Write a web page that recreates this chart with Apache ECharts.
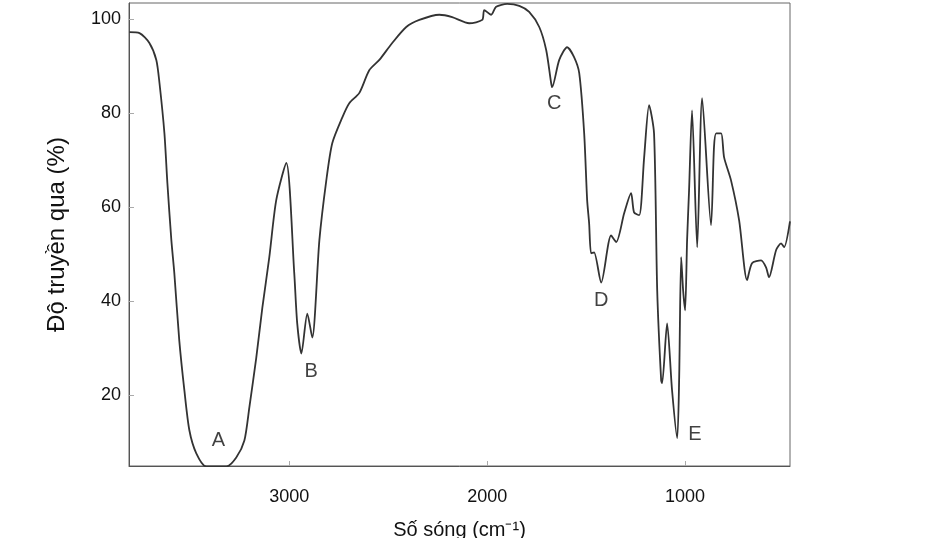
<!DOCTYPE html>
<html>
<head>
<meta charset="utf-8">
<title>Phổ IR</title>
<script src="https://cdn.jsdelivr.net/npm/echarts@6/dist/echarts.min.js"></script>
<style>
  html, body { margin: 0; padding: 0; background: #fff; }
  #chart { width: 939px; height: 538px; }
</style>
</head>
<body>
<div id="chart"></div>
<script>
// số sóng (cm-1) và độ truyền qua (%)
const wavenumbers = [
  3808, 3757, 3707, 3672, 3656, 3631, 3616, 3596, 3581, 3556, 3530, 3505, 3470, 3419, 3318,
  3268, 3227, 3202, 3167, 3136, 3101, 3066, 3015, 2975, 2960, 2939, 2909, 2884, 2848,
  2813, 2783, 2732, 2697, 2646, 2596, 2545, 2480, 2409, 2343, 2242, 2177, 2091, 2025,
  2015, 1980, 1955, 1899, 1838, 1788, 1737, 1702, 1677, 1672, 1636, 1596, 1561, 1535,
  1510, 1495, 1485, 1475, 1460, 1424, 1374, 1348, 1308, 1273, 1258, 1232, 1207, 1182,
  1157, 1141, 1121, 1116, 1091, 1066, 1040, 1030, 1020, 1010, 1000, 990, 980, 965,
  939, 914, 869, 854, 843, 818, 803, 768, 727, 687, 662, 616, 591, 576, 540, 515, 500, 470
]
const transmittance = [
  97.2, 97.0, 94.9, 91.3, 86.4, 75.7, 65.1, 53.0, 46.0, 31.7, 21.0, 12.6, 7.7, 4.9, 4.9,
  6.8, 10.4, 17.4, 28.0, 38.7, 49.4, 61.5, 69.4, 46.0, 35.3, 28.9, 37.4, 32.3, 53.0,
  65.7, 73.6, 79.1, 82.1, 84.3, 89.1, 91.3, 94.9, 98.3, 99.8, 100.9, 100.4, 99.1, 99.8,
  101.9, 100.9, 102.6, 103.2, 102.8, 101.5, 98.3, 93.4, 86.4, 85.5, 91.3, 94.0, 91.9, 88.5,
  75.7, 61.5, 56.6, 50.2, 50.4, 44.0, 54.0, 52.6, 58.7, 63.0, 58.9, 58.3, 70.6, 81.7,
  75.7, 42.3, 23.2, 22.6, 35.3, 21.1, 10.9, 23.8, 49.4, 42.3, 38.1, 53.0, 63.6, 80.6,
  51.5, 83.2, 56.2, 72.8, 75.7, 75.7, 70.6, 65.7, 57.2, 44.5, 48.1, 48.7, 47.2, 45.1, 50.9, 52.3, 51.5, 57.0
]

// nhãn các peak
const peakNames = ['A', 'B', 'C', 'D', 'E']
const peakWn = [3358, 2889, 1662, 1424, 950]
const peakT = [10.4, 25.1, 82.1, 40.2, 11.7]

const xTicks = [1000, 2000, 3000]
const yTicks = [20, 40, 60, 80, 100]

const spectrum = wavenumbers.map((w, i) => [w, transmittance[i]])
const peaks = peakNames.map((n, i) => ({ name: n, value: [peakWn[i], peakT[i]] }))

const myChart = echarts.init(document.getElementById('chart'))
const option = {
  backgroundColor: '#fff',
  animation: false,
  textStyle: { fontFamily: 'Liberation Sans, Arial, sans-serif' },
  grid: {
    left: 129,
    right: 149,
    top: 3,
    bottom: 72,
    outerBoundsMode: 'none',
    show: true,
    borderColor: '#666',
    borderWidth: 1
  },
  xAxis: {
    type: 'value',
    inverse: true,
    min: 470,
    max: 3810,
    name: 'Số sóng (cm⁻¹)',
    nameLocation: 'middle',
    nameGap: 54,
    nameTextStyle: { fontSize: 20, color: '#111' },
    axisLine: { show: true, lineStyle: { color: '#555' } },
    axisTick: { show: true, inside: true, length: 5, customValues: xTicks, lineStyle: { color: '#aaa' } },
    axisLabel: { customValues: xTicks, fontSize: 18, color: '#111', margin: 22, formatter: v => String(v) },
    splitLine: { show: false }
  },
  yAxis: {
    type: 'value',
    min: 5,
    max: 103.4,
    name: 'Độ truyền qua (%)',
    nameLocation: 'middle',
    nameGap: 60,
    nameRotate: 90,
    nameTextStyle: { fontSize: 24, color: '#111' },
    axisLine: { show: true, lineStyle: { color: '#555' } },
    axisTick: { show: true, inside: true, length: 5, customValues: yTicks, lineStyle: { color: '#aaa' } },
    axisLabel: { customValues: yTicks, fontSize: 18, color: '#111', margin: 8, formatter: v => String(v) },
    splitLine: { show: false }
  },
  series: [
    {
      type: 'line',
      data: spectrum,
      smooth: 0.25,
      showSymbol: false,
      lineStyle: { color: '#333', width: 1.8 }
    },
    {
      type: 'scatter',
      data: peaks,
      symbolSize: 0,
      label: {
        show: true,
        position: 'inside',
        formatter: '{b}',
        fontSize: 20,
        color: '#111'
      }
    }
  ]
}
myChart.setOption(option)
</script>
</body>
</html>
